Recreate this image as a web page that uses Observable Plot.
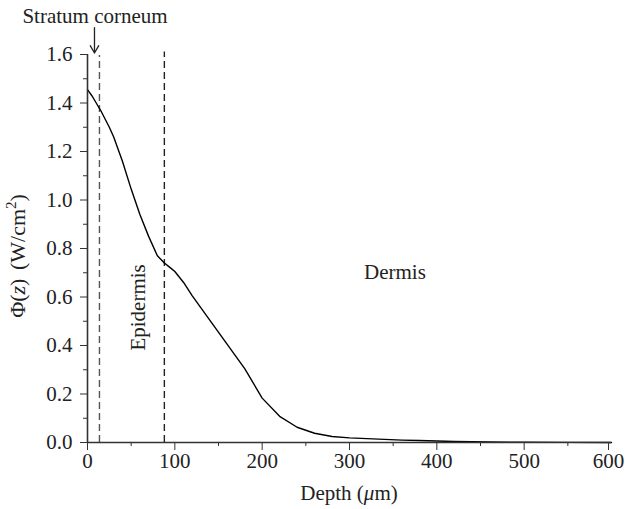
<!DOCTYPE html>
<html>
<head>
<meta charset="utf-8">
<script src="https://cdn.jsdelivr.net/npm/d3@7"></script>
<script src="https://cdn.jsdelivr.net/npm/@observablehq/plot@0.6"></script>
<style>
  html, body { margin: 0; padding: 0; background: #fff; }
</style>
</head>
<body>
<div id="chart"></div>
<script>
// Depth (µm) and fluence rate Φ(z) (W/cm²)
const depth = [0, 5, 10, 15, 20, 25, 30, 40, 50, 60, 70, 80, 88, 95, 100, 110, 120, 140, 160, 180, 200, 220, 240, 260, 280, 300, 320, 340, 360, 380, 400, 420, 440, 460, 500, 550, 600];
const phi   = [1.455, 1.43, 1.40, 1.37, 1.335, 1.30, 1.26, 1.16, 1.045, 0.94, 0.85, 0.77, 0.74, 0.72, 0.705, 0.66, 0.605, 0.505, 0.405, 0.305, 0.183, 0.108, 0.063, 0.038, 0.025, 0.019, 0.016, 0.013, 0.010, 0.008, 0.006, 0.004, 0.003, 0.002, 0.001, 0.0005, 0.0003];

// Layer boundaries (µm)
const stratumBoundary = [13.7];
const epidermisBoundary = [88];

// Tick values
const xMajor = [0, 100, 200, 300, 400, 500];
const xLast = [600];
const xMinor = [50, 150, 250, 350, 450, 550];
const yMajor = [0, 0.2, 0.4, 0.6, 0.8, 1.0, 1.2, 1.4, 1.6];
const yMinor = [0.1, 0.3, 0.5, 0.7, 0.9, 1.1, 1.3, 1.5];

// Annotations (data coordinates)
const regionLabels = [{label: "Dermis", x: 352, y: 0.70}];
const verticalLabels = [{label: "Epidermis", x: 58, y: 0.557}];
const topLabels = [{label: "Stratum corneum", x: 8.6, y: 1.757}];
const arrows = [{x1: 8, y1: 1.711, x2: 8, y2: 1.606}];

const data = depth.map((d, i) => ({depth: d, phi: phi[i]}));

const FONT = "'Liberation Serif', 'DejaVu Serif', serif";

const plot = Plot.plot({
  width: 625,
  height: 509,
  marginLeft: 87,
  marginRight: 14,
  marginTop: 54,
  marginBottom: 67,
  style: {fontFamily: FONT, fontSize: "21px", color: "#222", background: "#fff"},
  x: {domain: [0, 600], axis: null},
  y: {domain: [0, 1.6], axis: null},
  marks: [
    Plot.ruleX(stratumBoundary, {y1: 0, y2: 1.596, stroke: "#555", strokeWidth: 1.4, strokeDasharray: "7,4"}),
    Plot.ruleX(epidermisBoundary, {y1: 0, y2: 1.61, stroke: "#222", strokeWidth: 1.4, strokeDasharray: "7,4"}),
    Plot.line(data, {x: "depth", y: "phi", stroke: "#000", strokeWidth: 1.4}),
    Plot.axisX({ticks: xMajor, tickSize: 8, tickPadding: 3, label: null, tickFormat: d => String(d), stroke: "#333"}),
    Plot.axisX({ticks: xLast, tickSize: 8, tickPadding: 3, label: null, tickFormat: d => String(d), stroke: "#333", dx: -3}),
    Plot.axisX({ticks: xMinor, tickSize: 4, label: null, tickFormat: () => "", stroke: "#333"}),
    Plot.axisY({ticks: yMajor, tickSize: 7, tickPadding: 8, label: null, tickFormat: d3.format(".1f"), stroke: "#333"}),
    Plot.axisY({ticks: yMinor, tickSize: 4, label: null, tickFormat: () => "", stroke: "#333"}),
    Plot.ruleY([0], {stroke: "#333", strokeWidth: 1.6}),
    Plot.ruleX([0], {stroke: "#333", strokeWidth: 1.6}),
    Plot.text(regionLabels, {x: "x", y: "y", text: "label", fill: "#222"}),
    Plot.text(verticalLabels, {x: "x", y: "y", text: "label", rotate: -90, fill: "#222"}),
    Plot.text(topLabels, {x: "x", y: "y", text: "label", fill: "#222"}),
    Plot.arrow(arrows, {x1: "x1", y1: "y1", x2: "x2", y2: "y2", stroke: "#222", strokeWidth: 1.3, headLength: 10})
  ]
});

document.getElementById("chart").appendChild(plot);

// Axis titles with rich text (italic, superscript)
const svg = d3.select(plot);
const xs = plot.scale("x").range;
const ys = plot.scale("y").range;
const xMid = (xs[0] + xs[1]) / 2;
const yMid = (ys[0] + ys[1]) / 2;

const xt = svg.append("text")
  .attr("x", xMid).attr("y", 500)
  .attr("text-anchor", "middle")
  .attr("fill", "#222")
  .style("font-family", FONT).style("font-size", "21px");
xt.append("tspan").text("Depth (");
xt.append("tspan").attr("font-style", "italic").text("\u03bc");
xt.append("tspan").text("m)");

const yt = svg.append("text")
  .attr("transform", `translate(25,${yMid + 8}) rotate(-90)`)
  .attr("text-anchor", "middle")
  .attr("fill", "#222")
  .style("font-family", FONT).style("font-size", "22px")
  .style("word-spacing", "3px");
yt.append("tspan").text("\u03a6(");
yt.append("tspan").attr("font-style", "italic").text("z");
yt.append("tspan").text(") (W/cm");
yt.append("tspan").attr("dy", -9).attr("font-size", "15px").text("2");
yt.append("tspan").attr("dy", 9).text(")");
</script>
</body>
</html>
